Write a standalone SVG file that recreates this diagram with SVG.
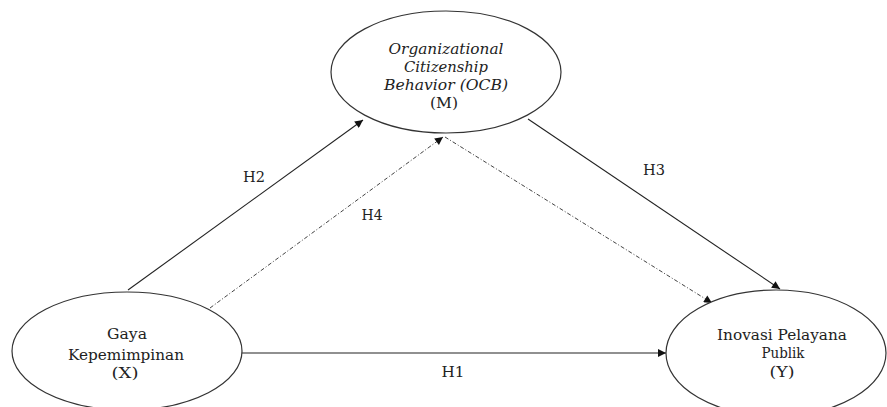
<svg xmlns="http://www.w3.org/2000/svg" width="887" height="407" viewBox="0 0 887 407">
<style>
.node ellipse{fill:#fff;stroke:#333;stroke-width:1.2}
text{font-family:"DejaVu Serif","Liberation Serif",serif;font-size:14px;fill:#222;text-anchor:middle}
.it{font-style:italic}
.solid{stroke:#222;stroke-width:1.1;fill:none}
.dash{stroke:#444;stroke-width:1;fill:none;stroke-dasharray:4,2,1,2}
</style>
<defs>
<marker id="arr" viewBox="0 0 10 10" refX="10" refY="5" markerWidth="9" markerHeight="8" markerUnits="userSpaceOnUse" orient="auto">
<path d="M0,0 L10,5 L0,10 z" fill="#111"/>
</marker>
</defs>
<rect width="887" height="407" fill="#fff"/>
<g id="connectors">
<line class="solid" x1="128" y1="290" x2="363" y2="120" marker-end="url(#arr)"/>
<line class="dash" x1="210" y1="308" x2="443" y2="137" marker-end="url(#arr)"/>
<line class="solid" x1="528" y1="119" x2="780" y2="289" marker-end="url(#arr)"/>
<line class="dash" x1="445" y1="137" x2="712" y2="303" marker-end="url(#arr)"/>
<line class="solid" x1="242" y1="353" x2="666" y2="353" marker-end="url(#arr)"/>
<text x="254" y="182" textLength="22" lengthAdjust="spacingAndGlyphs">H2</text>
<text x="372" y="220" textLength="21" lengthAdjust="spacingAndGlyphs">H4</text>
<text x="654" y="175" textLength="22" lengthAdjust="spacingAndGlyphs">H3</text>
<text x="453" y="377" textLength="23" lengthAdjust="spacingAndGlyphs">H1</text>
</g>
<g id="node-M" class="node">
<ellipse cx="446" cy="72" rx="115" ry="61"/>
<text class="it" x="446" y="54" textLength="115" lengthAdjust="spacingAndGlyphs">Organizational</text>
<text class="it" x="446" y="72" textLength="84" lengthAdjust="spacingAndGlyphs">Citizenship</text>
<text class="it" x="446" y="90" textLength="124" lengthAdjust="spacingAndGlyphs">Behavior (OCB)</text>
<text x="444" y="108" textLength="28" lengthAdjust="spacingAndGlyphs">(M)</text>
</g>
<g id="node-X" class="node">
<ellipse cx="127" cy="351" rx="115" ry="59"/>
<text x="127" y="339" textLength="40" lengthAdjust="spacingAndGlyphs">Gaya</text>
<text x="126" y="360" textLength="116" lengthAdjust="spacingAndGlyphs">Kepemimpinan</text>
<text x="125" y="378" textLength="27" lengthAdjust="spacingAndGlyphs">(X)</text>
</g>
<g id="node-Y" class="node">
<ellipse cx="776" cy="353" rx="110" ry="63"/>
<text x="782" y="340" textLength="130" lengthAdjust="spacingAndGlyphs">Inovasi Pelayana</text>
<text x="783" y="358" textLength="43" lengthAdjust="spacingAndGlyphs">Publik</text>
<text x="782" y="377" textLength="25" lengthAdjust="spacingAndGlyphs">(Y)</text>
</g>
</svg>
